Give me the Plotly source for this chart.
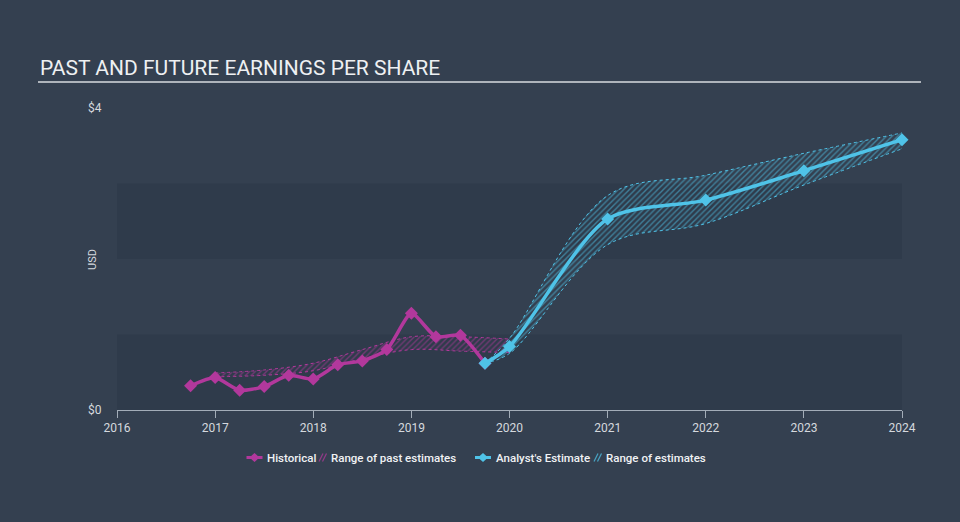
import plotly.graph_objects as go

# ---- data ----
hist_x = [2016.75, 2017.0, 2017.25, 2017.5, 2017.75, 2018.0, 2018.25, 2018.5,
          2018.75, 2019.0, 2019.25, 2019.5, 2019.75]
hist_y = [0.32, 0.43, 0.26, 0.31, 0.46, 0.41, 0.60, 0.65, 0.80, 1.28, 0.97, 0.99, 0.62]

past_x = [2017.0, 2017.5, 2018.0, 2018.5, 2019.0, 2019.5, 2020.0]
past_upper = [0.49, 0.53, 0.62, 0.80, 0.97, 0.97, 0.94]
past_lower = [0.44, 0.46, 0.52, 0.68, 0.80, 0.78, 0.76]

est_x = [2019.75, 2020.0, 2021.0, 2022.0, 2023.0, 2024.0]
est_y = [0.62, 0.84, 2.53, 2.78, 3.17, 3.58]
est_upper = [0.62, 0.95, 2.84, 3.11, 3.40, 3.67]
est_lower = [0.62, 0.75, 2.19, 2.47, 2.98, 3.46]

year_ticks = [2016, 2017, 2018, 2019, 2020, 2021, 2022, 2023, 2024]
y_ticks = [0, 4]
y_labels = ["$0", "$4"]

MAG = "#b2389c"
BLUE = "#4fc3e8"
BG = "rgb(52,64,80)"
BAND = "rgb(47,59,75)"
TXT = "#d5d9de"

# plot area in pixels (for paper-coordinate helpers)
L, R, T, B = 117, 902, 108, 410


def px(x):
    return (x - L) / (R - L)


def py(y):
    return (B - y) / (B - T)


fig = go.Figure()

# past estimates range
fig.add_trace(go.Scatter(x=past_x, y=past_upper, mode="lines",
                         line=dict(color=MAG, width=1, dash="dot", shape="spline"),
                         showlegend=False, hoverinfo="skip"))
fig.add_trace(go.Scatter(x=past_x, y=past_lower, mode="lines", fill="tonexty",
                         fillcolor="rgba(178,56,156,0.18)",
                         fillpattern=dict(shape="/", fgcolor=MAG, bgcolor="rgba(0,0,0,0)", size=4, solidity=0.35),
                         line=dict(color=MAG, width=1, dash="dot", shape="spline"),
                         name="Range of past estimates", showlegend=False))

# estimate range
fig.add_trace(go.Scatter(x=est_x, y=est_upper, mode="lines",
                         line=dict(color=BLUE, width=1, dash="dot", shape="spline"),
                         showlegend=False, hoverinfo="skip"))
fig.add_trace(go.Scatter(x=est_x, y=est_lower, mode="lines", fill="tonexty",
                         fillcolor="rgba(79,195,232,0.2)",
                         fillpattern=dict(shape="/", fgcolor=BLUE, bgcolor="rgba(0,0,0,0)", size=4, solidity=0.35),
                         line=dict(color=BLUE, width=1, dash="dot", shape="spline"),
                         name="Range of estimates", showlegend=False))

# historical
fig.add_trace(go.Scatter(x=hist_x, y=hist_y, mode="lines+markers", name="Historical",
                         line=dict(color=MAG, width=3.5, shape="spline", smoothing=0.6),
                         marker=dict(symbol="diamond", size=10, color=MAG),
                         showlegend=False, cliponaxis=False))

# analyst estimate
fig.add_trace(go.Scatter(x=est_x, y=est_y, mode="lines+markers", name="Analyst's Estimate",
                         line=dict(color=BLUE, width=3.5, shape="spline", smoothing=0.8),
                         marker=dict(symbol="diamond", size=10, color=BLUE),
                         showlegend=False, cliponaxis=False))

shapes = [
    dict(type="rect", xref="x", yref="y", x0=2016, x1=2024, y0=0, y1=1, fillcolor=BAND, line=dict(width=0), layer="below"),
    dict(type="rect", xref="x", yref="y", x0=2016, x1=2024, y0=2, y1=3, fillcolor=BAND, line=dict(width=0), layer="below"),
    dict(type="line", xref="paper", yref="paper", x0=px(38), x1=px(921), y0=py(82), y1=py(82),
         line=dict(color="#aeb4bb", width=2)),
]

annotations = [
    dict(text="PAST AND FUTURE EARNINGS PER SHARE", xref="paper", yref="paper",
         x=px(38), y=py(68), xanchor="left", yanchor="middle", showarrow=False,
         font=dict(size=21, color="#eef0f2", family="Roboto")),
    dict(text="USD", xref="paper", yref="paper", x=px(92), y=py(260), textangle=-90,
         xanchor="center", yanchor="middle", showarrow=False, font=dict(size=11, color=TXT)),
]

# ---- custom legend ----
LEG_Y = 457.5


def legend_marker(cx, color):
    shapes.append(dict(type="line", xref="paper", yref="paper", x0=px(cx - 8), x1=px(cx + 8),
                       y0=py(LEG_Y), y1=py(LEG_Y), line=dict(color=color, width=3)))
    path = "M {a},{b} L {c},{d} L {e},{f} L {g},{h} Z".format(
        a=px(cx - 5), b=py(LEG_Y), c=px(cx), d=py(LEG_Y - 4.5),
        e=px(cx + 5), f=py(LEG_Y), g=px(cx), h=py(LEG_Y + 4.5))
    shapes.append(dict(type="path", xref="paper", yref="paper", path=path,
                       fillcolor=color, line=dict(color=color, width=0)))


def legend_hatch(x0, color):
    for dx in (0, 3.5):
        shapes.append(dict(type="line", xref="paper", yref="paper",
                           x0=px(x0 + dx), x1=px(x0 + dx + 4), y0=py(LEG_Y + 4), y1=py(LEG_Y - 4),
                           line=dict(color=color, width=1.3)))


def legend_text(x, text):
    annotations.append(dict(text=text, xref="paper", yref="paper", x=px(x), y=py(LEG_Y),
                            xanchor="left", yanchor="middle", showarrow=False,
                            font=dict(size=11.5, color="#f0f2f4", family="Roboto", weight=500)))


legend_marker(254.5, MAG)
legend_text(265, "Historical")
legend_hatch(319, "rgba(178,56,156,0.75)")
legend_text(328.5, "Range of past estimates")
legend_marker(483, BLUE)
legend_text(493.5, "Analyst's Estimate")
legend_hatch(594, "rgba(79,195,232,0.75)")
legend_text(603.5, "Range of estimates")

fig.update_layout(
    width=960, height=522,
    paper_bgcolor=BG, plot_bgcolor=BG,
    margin=dict(l=L, r=960 - R, t=T, b=522 - B),
    font=dict(family="Roboto", color=TXT, size=12),
    shapes=shapes,
    annotations=annotations,
    showlegend=False,
    xaxis=dict(range=[2016, 2024], tickvals=year_ticks, ticktext=[str(t) for t in year_ticks],
               showgrid=False, zeroline=False, showline=True, linecolor="#a3adb8", linewidth=1,
               ticks="outside", ticklen=7, tickcolor="#a3adb8", tickfont=dict(size=12, color=TXT)),
    yaxis=dict(range=[0, 4], tickvals=y_ticks, ticktext=y_labels, showgrid=False, zeroline=False,
               ticks="outside", ticklen=12, tickcolor="rgba(0,0,0,0)", tickfont=dict(size=12, color=TXT)),
)

fig.write_html("out.html")
